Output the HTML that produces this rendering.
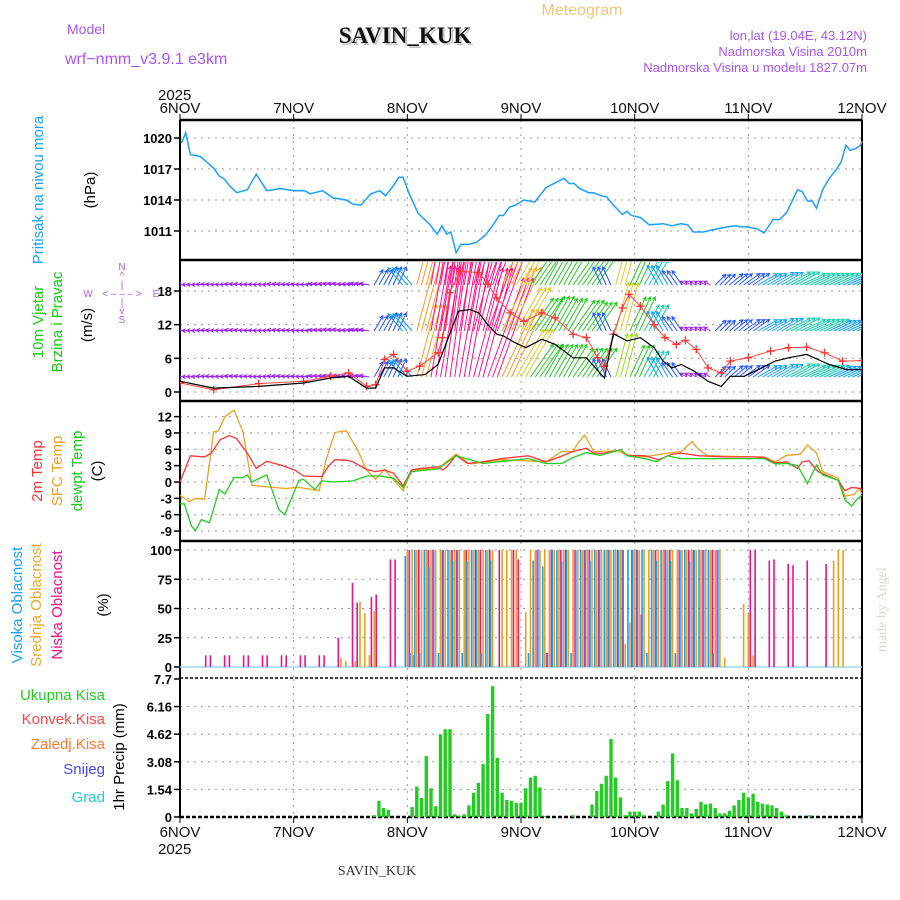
<!DOCTYPE html>
<html><head><meta charset="utf-8"><title>Meteogram SAVIN_KUK</title>
<style>
body{margin:0;background:#fff;}
svg{display:block;font-family:"Liberation Sans",sans-serif;}
.tk{font-size:13px;font-weight:bold;fill:#000;text-anchor:end;}
.dl{font-size:15px;fill:#111;text-anchor:middle;}
.grid{stroke:#999;stroke-width:1;stroke-dasharray:2,5;}
</style></head>
<body>
<svg id="chart" width="900" height="900" viewBox="0 0 900 900">
<defs><clipPath id="clipWind"><rect x="180" y="262" width="682" height="138"/></clipPath>
<clipPath id="clipAll"><rect x="180" y="120" width="682" height="698"/></clipPath></defs>
<text x="67" y="34" font-size="14" fill="#a855f0">Model</text>
<text x="65" y="64" font-size="16" fill="#a855f0">wrf−nmm_v3.9.1 e3km</text>
<text x="407" y="45" font-size="23" font-weight="bold" font-family="Liberation Serif,serif" fill="#888" text-anchor="middle" opacity="0.5">SAVIN_KUK</text>
<text x="405" y="43" font-size="23" font-weight="bold" font-family="Liberation Serif,serif" fill="#111" text-anchor="middle">SAVIN_KUK</text>
<text x="582" y="15" font-size="16" fill="#f2c47a" text-anchor="middle">Meteogram</text>
<text x="867" y="40" font-size="13" fill="#a855f0" text-anchor="end">lon,lat (19.04E, 43.12N)</text>
<text x="867" y="56" font-size="13" fill="#a855f0" text-anchor="end">Nadmorska Visina 2010m</text>
<text x="867" y="72" font-size="13" fill="#a855f0" text-anchor="end">Nadmorska Visina u modelu 1827.07m</text>
<text x="158" y="100" font-size="15" fill="#111">2025</text>
<text x="158" y="854" font-size="15" fill="#111">2025</text>
<text x="377" y="875" font-size="14" font-family="Liberation Serif,serif" fill="#333" text-anchor="middle">SAVIN_KUK</text>
<text x="0" y="0" font-size="14" font-family="Liberation Serif,serif" fill="#d5dcd0" transform="translate(886,652) rotate(-90)">made by Angel</text>

<text transform="translate(43,190) rotate(-90)" font-size="15" fill="#1aa0ff" text-anchor="middle">Pritisak na nivou mora</text>
<text transform="translate(95,190) rotate(-90)" font-size="15" fill="#000" text-anchor="middle">(hPa)</text>
<text transform="translate(43,322) rotate(-90)" font-size="15" fill="#11cc11" text-anchor="middle">10m Vjetar</text>
<text transform="translate(62,322) rotate(-90)" font-size="15" fill="#11cc11" text-anchor="middle">Brzina i Pravac</text>
<text transform="translate(92,325) rotate(-90)" font-size="15" fill="#000" text-anchor="middle">(m/s)</text>
<g fill="#b060f0" font-size="10" text-anchor="middle">
<text x="122" y="270">N</text><text x="122" y="279">^</text><text x="122" y="288">|</text>
<text x="88" y="297">W</text><text x="122" y="297">&lt; – – – &gt;</text><text x="156" y="297">E</text>
<text x="122" y="306">|</text><text x="122" y="314">v</text><text x="122" y="323">S</text></g>
<text transform="translate(42,471) rotate(-90)" font-size="15" fill="#ff3333" text-anchor="middle">2m Temp</text>
<text transform="translate(62,471) rotate(-90)" font-size="15" fill="#f0a020" text-anchor="middle">SFC Temp</text>
<text transform="translate(82,471) rotate(-90)" font-size="15" fill="#11cc11" text-anchor="middle">dewpt Temp</text>
<text transform="translate(102,471) rotate(-90)" font-size="15" fill="#000" text-anchor="middle">(C)</text>
<text transform="translate(22,605) rotate(-90)" font-size="15" fill="#1aa0ff" text-anchor="middle">Visoka Oblacnost</text>
<text transform="translate(41,605) rotate(-90)" font-size="15" fill="#e8a830" text-anchor="middle">Srednja Oblacnost</text>
<text transform="translate(62,605) rotate(-90)" font-size="15" fill="#ee1188" text-anchor="middle">Niska Oblacnost</text>
<text transform="translate(108,605) rotate(-90)" font-size="15" fill="#000" text-anchor="middle">(%)</text>
<g font-size="15" text-anchor="end">
<text x="105" y="700" fill="#22cc22">Ukupna Kisa</text>
<text x="105" y="724" fill="#ff4444">Konvek.Kisa</text>
<text x="105" y="749" fill="#ff7733">Zaledj.Kisa</text>
<text x="105" y="774" fill="#4444ff">Snijeg</text>
<text x="105" y="802" fill="#22cccc">Grad</text></g>
<text transform="translate(124,757) rotate(-90)" font-size="15" fill="#000" text-anchor="middle">1hr Precip (mm)</text>
<g id="plot"></g>
</svg>
<script>
const dayLabels=["6NOV","7NOV","8NOV","9NOV","10NOV","11NOV","12NOV"];
const pressTicks=[1020,1017,1014,1011];
const windTicks=[18,12,6,0];
const tempTicks=[12,9,6,3,0,-3,-6,-9];
const cloudTicks=[100,75,50,25,0];
const precipTicks=["7.7","6.16","4.62","3.08","1.54","0"];
const pressHours=[0.3,1.2,2.2,4.3,7.1,8.3,9.2,10.4,12,14.2,16.1,18.3,21.2,24.2,26.3,27.5,30.1,32.3,35.1,36.5,38.2,40.3,42.2,43.4,45.1,46.2,47.1,48.4,50.3,52.6,54.3,55.3,56.3,57.2,58.3,59.3,61,62.6,64.5,66.1,67.4,68.3,69.5,70.9,72.6,74.9,77.3,79.4,81.1,82.2,83.2,84.4,86.3,87.3,88.9,90.1,91.5,93.4,94.4,95.3,97.2,99.1,102,103.9,105.8,107.2,108.4,110.5,113.4,115.7,117.3,118.3,119.5,121.9,123.3,125.2,126.6,128.1,130.4,131.4,132.5,133.5,134.4,135.7,137.1,138.5,139.6,140.6,141.5,142.8,143.7,144];
const pressVals=[1019.5,1020.5,1018.4,1018.2,1017.1,1016.3,1016.1,1015.4,1014.7,1015.0,1016.5,1014.9,1015.1,1014.9,1014.9,1014.6,1014.9,1014.2,1014.0,1013.6,1013.5,1014.6,1014.9,1014.4,1015.4,1016.2,1016.2,1014.6,1012.7,1011.7,1010.7,1011.5,1010.7,1010.9,1008.9,1009.7,1009.7,1009.9,1010.6,1011.6,1012.5,1012.5,1013.3,1013.5,1014.0,1013.8,1015.2,1015.7,1016.1,1015.6,1015.6,1015.1,1014.7,1014.7,1014.4,1014.3,1013.5,1012.6,1012.9,1012.5,1012.3,1011.6,1011.7,1011.5,1011.7,1011.6,1010.9,1010.9,1011.2,1011.4,1011.5,1011.4,1011.4,1011.2,1010.8,1012.1,1012.1,1012.8,1015.0,1014.8,1013.9,1013.9,1013.2,1015.0,1016.1,1016.9,1017.7,1019.3,1018.8,1019.0,1019.3,1019.7];
const speedHours=[0,7.1,16.6,26.1,31.8,35.6,39.4,41.3,43.2,45.1,47.9,51.7,54.5,56.4,58.8,61.2,63.1,65,66.9,68.3,70.7,73,76.4,79.2,83,85.8,87.7,89.6,91.5,94.4,97.2,100.1,102,103.9,105.8,108.6,111.5,114.3,116.2,119.1,122.8,125.7,128.5,132.3,134.7,137.1,140.8,144];
const speedVals=[1.9,0.7,1.0,1.6,2.5,2.8,0.7,0.7,4.3,4.3,2.8,3.1,4.9,9.1,14.4,14.7,14.1,12.0,10.3,10.0,8.8,7.9,9.4,8.5,6.1,6.1,4.3,2.5,10.4,9.1,9.7,7.9,5.5,4.3,4.9,3.7,1.9,1.0,2.8,2.8,4.3,5.5,6.1,6.7,5.8,4.9,4.0,4.0];
const gustHours=[0,7.1,16.6,26.1,31.8,35.6,39.4,41.3,43.2,45.1,47.9,50.6,54.5,55.4,56.9,59.2,63.1,65,66.9,69.7,72.6,76.4,79.2,83,85.8,88.2,89.6,91.5,93.4,94.8,97.2,100.1,102.4,104.8,106.7,109,111.5,114.3,116.2,120,124.7,128.5,132.3,136.1,139.9,144];
const gustVals=[1.6,0.4,1.5,1.9,2.8,3.4,1.0,1.3,5.8,6.7,3.7,4.6,7.0,9.7,17.7,21.5,21.3,19.2,16.8,14.1,12.6,14.1,13.2,10.3,9.7,6.1,4.6,10.3,15.0,17.4,15.3,12.0,9.7,8.5,9.2,7.6,4.3,3.4,5.5,6.1,7.3,7.9,8.0,7.0,5.5,5.6];
const windDir=[-84,-86,-82,-84,-80,-83,-85,-80,-82,-84,-80,-78,-82,-80,30,25,-40,15,10,8,10,15,20,25,30,35,30,30,35,35,-25,15,25,30,-30,-35,-60,-60,45,50,55,60,60,62,65,65,65,65,65];
const spdLow=[3,3,3,3,3,3,3,3,3,3,3.5,3.5,3.5,4,7,8,9,30,45,50,50,45,42,30,22,16,15,15,14,14,8,18,14,12,9,7,3,3,6,7,8,9,10,11,11,11,10,9,9];
const spdMid=[3,3,3,3,3,3,3,3,3,3,3.5,3.5,3.5,4,7,8,9,30,45,50,50,45,42,28,20,16,16,15,15,14,8,20,15,12,9,7,3,3,6,7,8,9,10,11,11,11,10,9,9];
const spdTop=[3,3,3,3,3,3,3,3,3,3,3.5,3.5,3.5,4,7,8,9,30,45,50,50,45,40,26,20,16,15,15,14,13,8,20,15,12,9,7,3,3,6,7,8,9,10,11,11,11,11,10,10];
const tRedH=[0,2.2,5.2,6.6,8.5,10.4,11.9,14.2,16.1,18.3,21.3,24.2,26.1,29.9,31.3,32.7,35.1,36.5,39.4,41.3,43.2,45.1,47.1,48.9,50.8,54.5,55.5,56.4,58.3,60.7,64,67.8,73.5,77.3,80.2,83,85.8,87.3,89.6,93,94.4,98.2,101,103.9,105.8,109.6,115.3,121,123.3,125.7,128.1,130.4,131.4,132.8,134.7,139,140.4,141.8,143.7,144];
const tRedV=[0,4.8,4.6,5.3,7.8,8.5,8.0,5.3,2.5,3.8,3.1,2.2,1.1,1.0,2.8,4.1,4.0,3.7,2.3,1.9,2.2,1.6,-0.7,2.2,2.5,2.8,2.2,2.8,4.9,3.4,3.7,4.3,4.8,3.7,4.6,5.6,6.2,5.3,5.3,5.9,4.9,4.8,4.1,5.1,5.3,4.8,4.6,4.6,4.5,3.5,3.7,2.5,3.7,3.9,1.9,0.3,-1.6,-1.0,-1.2,-1.6];
const tSfcH=[0,1.9,3.3,5.2,7.1,8.1,9.5,11.4,13.3,15.2,18.5,22.3,25.1,29.4,30.8,32.7,35.1,37.5,39.4,41.3,43.2,47.1,48.9,54.5,58.3,61.2,67.8,77.3,80.6,83,84,85.4,86.8,87.3,92.5,94.4,98.2,102.9,105.8,108.1,109.6,111.5,121,123.3,125.7,128.1,131,132.5,134.4,135.7,139,140.4,142.3,143.4,144];
const tSfcV=[-2.4,-3.6,-3.0,-3.2,9.2,9.4,12.0,13.2,9.2,-0.6,-0.9,-1.2,-1.0,-1.6,4.0,9.1,9.4,5.9,2.2,0.5,2.3,-1.6,2.2,2.5,5.1,3.3,4.1,3.7,5.6,5.6,7.1,8.6,6.5,5.6,5.7,4.9,4.6,5.3,5.6,7.4,5.9,4.8,4.6,4.6,3.7,4.9,5.1,6.8,5.3,1.9,0.7,-2.6,-2.3,-1.2,-2.2];
const tDewH=[0,0.9,2.4,3.3,4.5,6.2,8.3,9.5,11.4,13.3,14.2,15.2,18.3,20.9,22.1,25.1,26.1,28.5,29.9,32.7,36.5,39.4,42.2,45.1,47.1,48.9,54.5,58.3,64,73.5,77.3,80.6,83,85.8,88.7,93,94.4,98.2,100.6,102.9,105.8,111.5,121,123.3,125.7,128.1,130.4,132.5,134.4,135.7,139,140.4,141.8,142.8,144];
const tDewV=[-4.0,-4.0,-8.1,-8.9,-6.9,-7.5,-1.4,-2.2,0.8,0.8,1.3,0.0,1.3,-5.1,-6.0,0.3,0.5,-1.4,0.2,0.0,0.2,1.1,1.1,0.7,-1.0,1.9,2.4,4.8,3.4,4.3,3.4,3.4,4.5,5.4,4.9,5.9,4.8,4.3,3.7,4.8,4.3,4.3,4.3,4.3,3.3,3.4,3.0,-0.3,3.1,1.3,0.3,-3.3,-4.4,-3.3,-2.4];
const cloudLow=[0,0,0,0,0,10,10,0,0,10,10,0,0,10,10,0,0,10,10,0,0,10,10,0,0,10,10,0,0,10,10,0,0,25,0,0,72,55,0,0,60,62,0,0,92,92,0,0,
100,10,100,0,100,100,0,100,0,100,100,0,100,0,100,100,0,100,0,100,0,0,100,92,0,0,0,100,0,12,100,0,100,100,0,100,0,100,100,0,100,0,100,0,100,100,0,100,100,45,0,0,100,0,100,100,0,100,0,100,100,0,100,0,100,100,0,0,0,0,0,0,100,100,0,0,91,92,0,0,88,87,0,0,91,0,0,0,88,0,0,0,0,0,0];
const cloudMid=[0,0,0,0,0,0,0,0,0,0,0,0,0,0,0,0,0,0,0,0,0,0,0,0,0,0,0,0,0,0,0,0,0,0,8,5,0,5,56,46,10,48,0,0,0,0,0,0,
100,100,100,100,100,100,100,100,100,100,100,100,100,100,100,100,100,100,100,0,100,100,100,100,0,47,100,100,100,100,100,100,100,100,100,100,100,100,100,100,100,100,100,100,100,100,20,38,100,100,100,100,100,100,100,100,100,100,100,100,100,100,100,100,100,100,100,8,0,0,0,54,46,10,0,0,0,0,0,0,0,0,0,0,0,0,0,0,0,0,91,100,100];
const cloudHigh=[0,0,0,0,0,0,0,0,0,0,0,0,0,0,0,0,0,0,0,0,0,0,0,0,0,0,0,0,0,0,0,0,0,0,0,0,0,0,0,0,0,0,0,0,0,0,0,0,
95,12,100,12,100,86,100,12,100,100,91,100,12,91,100,100,12,100,91,0,0,0,0,0,0,0,12,91,100,86,12,100,100,91,100,12,100,100,100,91,100,100,100,100,100,100,100,100,100,100,100,12,100,91,100,100,91,12,100,100,91,100,100,100,100,12,100,0,0,0,0,0,0,0,0,0,0,0,0,0,0,0,0,0,0,0,0,0,0,0,0,0,0,0,0];
const precipVals=[0,0,0,0,0,0,0,0,0,0,0,0,0,0,0,0,0,0,0,0,0,0,0,0,0,0,0,0,0,0,0,0,0,0,0,0,0,0,0,0,0,0.1,0.9,0.5,0.4,0,0,0,0,0.55,1.7,1.06,3.4,1.6,0.6,4.6,4.9,4.9,0.15,0.05,0.15,0.65,1.35,1.9,2.95,5.75,7.3,3.3,1.35,0.95,0.9,0.8,0.8,1.6,2.2,2.3,1.65,0.05,0,0,0,0,0,0.1,0,0,0,0.7,1.45,1.85,2.3,4.35,2.2,1.1,0.1,0.3,0.3,0.3,0.1,0,0,0.3,0.7,2.0,3.55,2.05,0.5,0.5,0.2,0.45,0.85,0.7,0.75,0.5,0.2,0.2,0.35,0.65,0.95,1.35,1.1,1.3,0.85,0.75,0.7,0.65,0.5,0.3,0.1,0,0,0,0,0.1,0,0,0,0,0,0,0,0,0,0];

const NS='http://www.w3.org/2000/svg';
const plot=document.getElementById('plot');
const X0=180,X1=862;
function xOf(h){return X0+h*(X1-X0)/144;}
function yPress(v){return 138+(1020-v)*10.33;}
function yWind(v){return 392-v*5.61;}
function yTemp(v){return 482-v*5.45;}
function yCloud(v){return 667-v*1.17;}
function yPrecip(v){return 817-v*(138/7.7);}
function el(tag,attrs,parent){const e=document.createElementNS(NS,tag);for(const k in attrs)e.setAttribute(k,attrs[k]);(parent||plot).appendChild(e);return e;}
const panels=[[120,258,pressTicks,yPress,'pressure'],[262,400,windTicks,yWind,'wind'],[402,540,tempTicks,yTemp,'temperature'],[542,678,cloudTicks,yCloud,'cloud'],[679,817,precipTicks.map(Number),yPrecip,'precip']];
panels.forEach((p,pi)=>{
  const g=el('g',{});
  
  
  for(let d=1;d<6;d++){const l=el('line',{x1:xOf(d*24),x2:xOf(d*24),y1:p[0],y2:p[1],class:'grid'},g);}
  p[2].forEach((t,i)=>{
    const y=p[3](t);
    if(!(pi===4&&(i===0||i===5))){el('line',{x1:X0,x2:X1,y1:y,y2:y,class:'grid'},g);}
    el('line',{x1:174,x2:X0,y1:y,y2:y,stroke:'#000','stroke-width':1.5},g);
    const tx=el('text',{x:172,y:y+5,class:'tk'},g);
    tx.textContent=pi===4?precipTicks[i]:String(t);
    
    
  });
});
// frame
el('line',{x1:X0,x2:X0,y1:120,y2:818,stroke:'#000','stroke-width':2});
el('line',{x1:X1,x2:X1,y1:120,y2:818,stroke:'#000','stroke-width':2});
[120,260,401,541].forEach(y=>el('line',{x1:X0,x2:X1,y1:y,y2:y,stroke:'#000','stroke-width':2.5}));
el('line',{x1:X0,x2:X1,y1:678,y2:678,stroke:'#000','stroke-width':1.5,'stroke-dasharray':'3,2'});
el('line',{x1:X0,x2:X1,y1:817,y2:817,stroke:'#000','stroke-width':2.5,'stroke-dasharray':'4,2'});
dayLabels.forEach((d,i)=>{
  const x=xOf(i*24);
  el('line',{x1:x,x2:x,y1:114,y2:120,stroke:'#000'});
  el('line',{x1:x,x2:x,y1:817,y2:823,stroke:'#000'});
  const t=el('text',{x:x,y:113,class:'dl'});t.textContent=d;
  
  
  const b=el('text',{x:x,y:837,class:'dl'});b.textContent=d;
  
  
});
function line(hs,vs,yf,color,w,name,parent){
  const pts=hs.map((h,i)=>xOf(h).toFixed(1)+','+yf(vs[i]).toFixed(1)).join(' ');
  const pl=el('polyline',{points:pts,fill:'none',stroke:color,'stroke-width':w},parent);
  
  
  return pl;
}
line(pressHours,pressVals,yPress,'#1aa0ff',1.5,'pressure-line');
// wind arrows
const wg=el('g',{'clip-path':'url(#clipWind)'});


function wcol(s){if(s<5)return'#9a22ee';if(s<9)return'#2255ff';if(s<11)return'#11a0ee';if(s<13)return'#11ccaa';if(s<17)return'#22cc22';if(s<20)return'#99dd11';if(s<24)return'#ddcc22';if(s<32)return'#ff9922';if(s<40)return'#ff4455';return'#ff1188';}
[[spdLow,377],[spdMid,331],[spdTop,285]].forEach(r=>{
  const spd=r[0],by=r[1];
  for(let h=0;h<=144;h++){
    const i=Math.round(h/3);
    const s=spd[i],a=windDir[i]*Math.PI/180,L=s*2.5;
    const x=xOf(h),tx=x+L*Math.sin(a),ty=by-L*Math.cos(a);
    const c=wcol(s);
    const ar=el('path',{d:`M${x.toFixed(1)},${by} L${tx.toFixed(1)},${ty.toFixed(1)} M${(tx-4*Math.sin(a-0.5)).toFixed(1)},${(ty+4*Math.cos(a-0.5)).toFixed(1)} L${tx.toFixed(1)},${ty.toFixed(1)} L${(tx-4*Math.sin(a+0.5)).toFixed(1)},${(ty+4*Math.cos(a+0.5)).toFixed(1)}`,stroke:c,'stroke-width':1,fill:'none'},wg);
    
    
  }
});
line(gustHours,gustVals,yWind,'#ff4444',1,'gust-line',wg);
gustHours.forEach((h,i)=>{
  const x=xOf(h),y=yWind(gustVals[i]);
  const m=el('path',{d:`M${x-4},${y} h8 M${x},${y-4} v8`,stroke:'#ff3333','stroke-width':1.3},wg);
  
  
});
line(speedHours,speedVals,yWind,'#000',1.2,'wind-speed-line',wg);
// temperatures
line(tSfcH,tSfcV,yTemp,'#f0a020',1.3,'sfc-temp-line');
line(tRedH,tRedV,yTemp,'#ff3333',1.3,'2m-temp-line');
line(tDewH,tDewV,yTemp,'#22cc22',1.3,'dewpoint-line');
// clouds
const cg=el('g',{});


el('line',{x1:X0,x2:X1,y1:667,y2:667,stroke:'#9fd8f0','stroke-width':1.5},cg);
for(let h=0;h<=144;h++){
  const x=xOf(h);
  [[cloudHigh,'#1a9cff',-2],[cloudMid,'#e8a020',0],[cloudLow,'#ee1188',2]].forEach(c=>{
    const v=c[0][h];
    if(v>0){const b=el('rect',{x:(x+c[2]-0.8).toFixed(1),y:yCloud(v).toFixed(1),width:1.6,height:(667-yCloud(v)).toFixed(1),fill:c[1]},cg);
      
      }
  });
}
// precip
const pg=el('g',{});


precipVals.forEach((v,h)=>{
  if(v<=0)return;
  const x=xOf(h);
  const b=el('rect',{x:(x-1.7).toFixed(1),y:yPrecip(v).toFixed(1),width:3.4,height:(817-yPrecip(v)).toFixed(1),fill:'#22cc22'},pg);
  
  
});
</script>
</body></html>
